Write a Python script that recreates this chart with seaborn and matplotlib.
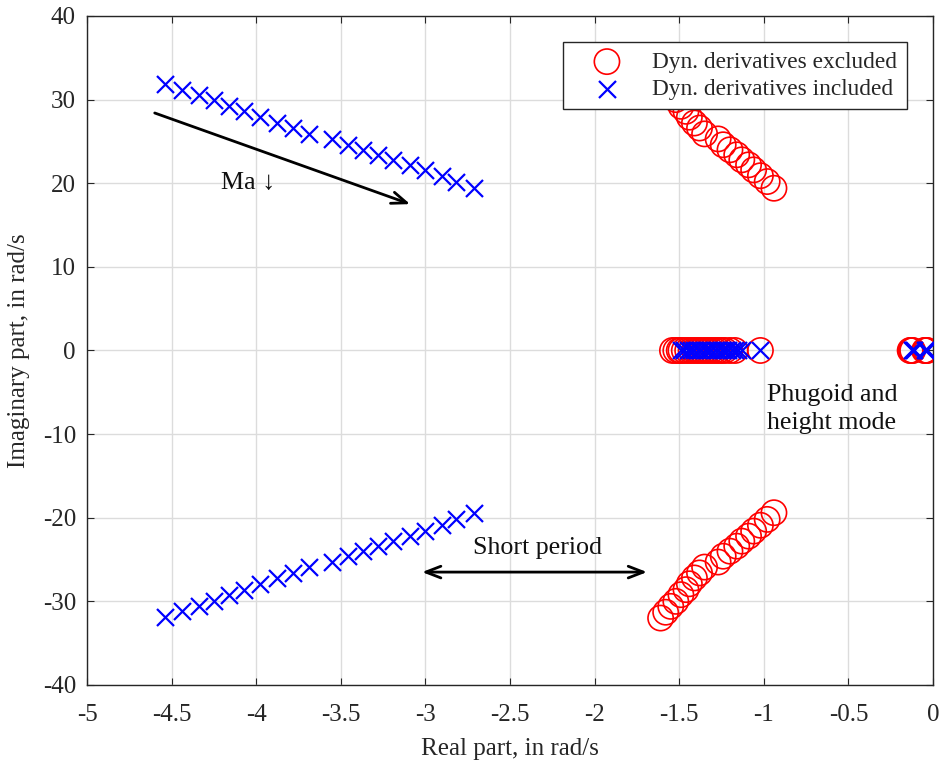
import numpy as np
import pandas as pd
import matplotlib
matplotlib.use("Agg")
import matplotlib.pyplot as plt
import seaborn as sns

# Short-period eigenvalues (upper half plane; the lower half is the conjugate)
sp_excl_re = [-1.61, -1.58, -1.55, -1.52, -1.49, -1.46, -1.44, -1.41, -1.38, -1.35,
              -1.27, -1.24, -1.20, -1.16, -1.13, -1.09, -1.06, -1.02, -0.98, -0.94]
sp_excl_im = [32.0, 31.3, 30.6, 30.0, 29.2, 28.6, 27.9, 27.2, 26.6, 25.9,
              25.3, 24.6, 24.0, 23.4, 22.8, 22.2, 21.6, 20.9, 20.2, 19.4]
sp_incl_re = [-4.54, -4.44, -4.34, -4.25, -4.16, -4.07, -3.98, -3.88, -3.78, -3.69,
              -3.55, -3.46, -3.37, -3.28, -3.19, -3.09, -3.00, -2.90, -2.82, -2.71]
sp_incl_im = [31.9, 31.2, 30.6, 30.0, 29.2, 28.6, 27.9, 27.2, 26.6, 25.9,
              25.3, 24.6, 24.0, 23.4, 22.8, 22.2, 21.6, 20.9, 20.2, 19.4]

# Real eigenvalues
real_excl = [-1.54, -1.52, -1.50, -1.49, -1.47, -1.45, -1.43, -1.41, -1.39, -1.37,
             -1.35, -1.33, -1.31, -1.29, -1.27, -1.25, -1.23, -1.20, -1.17, -1.02]
real_incl = [-1.49, -1.47, -1.45, -1.43, -1.41, -1.39, -1.37, -1.35, -1.33, -1.31,
             -1.29, -1.27, -1.25, -1.23, -1.21, -1.19, -1.17, -1.15, -1.13, -1.02]

# Phugoid and height mode (near the origin)
ph_excl = [-0.135, -0.13, -0.125, -0.12, -0.05, -0.045, -0.04, -0.035]
ph_incl = [-0.125, -0.12, -0.115, -0.045, -0.04, -0.035]

x_ticks = [-5, -4.5, -4, -3.5, -3, -2.5, -2, -1.5, -1, -0.5, 0]
y_ticks = [-40, -30, -20, -10, 0, 10, 20, 30, 40]

label_excl = "Dyn. derivatives excluded"
label_incl = "Dyn. derivatives included"


def poles(sp_re, sp_im, real_vals, ph_vals, label):
    re = list(sp_re) + list(sp_re) + list(real_vals) + list(ph_vals)
    im = list(sp_im) + [-v for v in sp_im] + [0.0] * len(real_vals) + [0.0] * len(ph_vals)
    return pd.DataFrame({"re": re, "im": im, "case": label})


df_excl = poles(sp_excl_re, sp_excl_im, real_excl, ph_excl, label_excl)
df_incl = poles(sp_incl_re, sp_incl_im, real_incl, ph_incl, label_incl)

sns.set_theme(style="whitegrid")
plt.rcParams["font.family"] = ["Liberation Serif", "DejaVu Serif"]

fig = plt.figure(figsize=(9.39, 7.61), dpi=100)
ax = fig.add_axes([0.0927, 0.0999, 0.9009, 0.8791])

sns.scatterplot(data=df_excl, x="re", y="im", marker="o", s=330,
                facecolors="none", edgecolor="#ff0000", linewidth=1.2,
                label=label_excl, ax=ax, zorder=3)
sns.scatterplot(data=df_incl, x="re", y="im", marker="x", s=150,
                color="#0000ff", linewidth=1.6,
                label=label_incl, ax=ax, zorder=4)

ax.set_xlim(-5, 0)
ax.set_ylim(-40, 40)
ax.set_xticks(x_ticks)
ax.set_yticks(y_ticks)
ax.set_xticklabels([f"{v:g}" for v in x_ticks])
ax.set_yticklabels([f"{v:g}" for v in y_ticks])
ax.set_facecolor("white")
ax.grid(True, color="#dcdcdc", linewidth=1.0)
for sp in ax.spines.values():
    sp.set_visible(True)
    sp.set_color("#262626")
    sp.set_linewidth(1.0)
ax.tick_params(direction="in", length=5, width=0.8, color="#262626",
               labelsize=18, labelcolor="#262626", top=True, right=True,
               bottom=True, left=True)
ax.tick_params(axis="x", pad=14)
ax.tick_params(axis="y", pad=8)
ax.set_xlabel("Real part, in rad/s", fontsize=18, color="#262626", labelpad=8)
ax.set_ylabel("Imaginary part, in rad/s", fontsize=18, color="#262626", labelpad=9)

leg = ax.legend(loc="upper right", bbox_to_anchor=(0.969, 0.961),
                borderaxespad=0.0, fontsize=16.8,
                frameon=True, fancybox=False, edgecolor="#262626",
                framealpha=1.0, handletextpad=0.45, borderpad=0.4,
                labelspacing=0.25, handlelength=3.0)
leg.get_frame().set_linewidth(1.0)
leg.set_zorder(10)

# Annotations
ax.annotate("", xy=(-3.09, 17.5), xytext=(-4.60, 28.4),
            arrowprops=dict(arrowstyle="->,head_length=0.9,head_width=0.35",
                            color="black", lw=2.0, shrinkA=0, shrinkB=0))
ax.text(-4.21, 20.0, "Ma \u2193", fontsize=18.7, ha="left", va="center", color="#111111")

ax.annotate("", xy=(-1.69, -26.5), xytext=(-3.02, -26.5),
            arrowprops=dict(arrowstyle="<->,head_length=0.9,head_width=0.35",
                            color="black", lw=2.0, shrinkA=0, shrinkB=0))
ax.text(-2.34, -23.6, "Short period", fontsize=18.7, ha="center", va="center",
        color="#111111")

ax.text(-0.98, -7.0, "Phugoid and\nheight mode", fontsize=18.7, ha="left",
        va="center", color="#111111", linespacing=1.4)

fig.savefig("out.png", dpi=100)
